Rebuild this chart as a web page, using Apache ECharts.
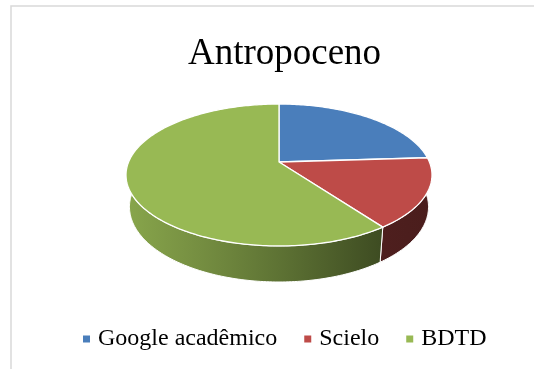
<!DOCTYPE html>
<html><head><meta charset="utf-8">
<script src="https://cdn.jsdelivr.net/npm/echarts@6/dist/echarts.min.js"></script>
<style>html,body{margin:0;padding:0;background:#fff}#c{width:534px;height:369px}</style>
</head><body><div id="c"></div>
<script>
const chartTitle = 'Antropoceno';
const categories = ['Google acadêmico', 'Scielo', 'BDTD'];
const values = [24, 16, 60];
const colors = ['#4a7ebb', '#be4b48', '#98b954'];

const total = values.reduce((a, b) => a + b, 0);
const starts = [], ends = [];
let acc = 0;
values.forEach(v => { starts.push(acc / total * 360); acc += v; ends.push(acc / total * 360); });

// perspective view of the pie (layout constants)
const P = { cx: 279, cy: 162, f: 731, D: 4.86, sa: 0.456, ca: 0.890, h: 0.24 };
function proj(deg, Y) {
  const r = deg * Math.PI / 180;
  const X = Math.sin(r), Z = Math.cos(r);
  const yc = Z * P.sa + Y * P.ca, zc = P.D + Z * P.ca - Y * P.sa;
  return [P.cx + P.f * X / zc, P.cy - P.f * yc / zc];
}
function arc(a, b, Y) {
  const pts = [];
  const n = Math.max(2, Math.ceil(Math.abs(b - a)));
  for (let i = 0; i <= n; i++) pts.push(proj(a + (b - a) * i / n, Y));
  return pts;
}
function shade(hex, k) {
  const n = parseInt(hex.slice(1), 16);
  const r = (n >> 16) & 255, g = (n >> 8) & 255, b = n & 255;
  return 'rgb(' + Math.round(r * k) + ',' + Math.round(g * k) + ',' + Math.round(b * k) + ')';
}
const xL = proj(260, 0)[0] - 4, xR = proj(100, 0)[0] + 2;
const shadeStops = [[0, 0.9], [0.25, 0.77], [0.5, 0.62], [0.83, 0.41], [1, 0.39]];

function renderSlice(params, api) {
  const i = params.seriesIndex;
  const a = starts[i], b = ends[i];
  const children = [];
  const wa = Math.max(a, 90), wb = Math.min(b, 270);
  if (wb > wa) {
    const top = arc(wa, wb, 0);
    const bot = arc(wb, wa, -P.h);
    children.push({
      type: 'polygon', z2: 1,
      shape: { points: top.concat(bot) },
      style: {
        fill: {
          type: 'linear', global: true, x: xL, y: 0, x2: xR, y2: 0,
          colorStops: shadeStops.map(s => ({ offset: s[0], color: shade(colors[i], s[1]) }))
        },
        stroke: '#ffffff', lineWidth: 1
      }
    });
  }
  const face = [[P.cx, P.cy]].concat(arc(a, b, 0));
  children.push({
    type: 'polygon', z2: 10,
    shape: { points: face },
    style: { fill: colors[i], stroke: '#ffffff', lineWidth: 1.3, lineJoin: 'round' }
  });
  return { type: 'group', children };
}

const serif = 'Liberation Serif';
const chart = echarts.init(document.getElementById('c'), null, { renderer: 'canvas' });
chart.setOption({
  animation: false,
  backgroundColor: '#ffffff',
  color: colors,
  textStyle: { fontFamily: serif },
  title: {
    text: chartTitle, left: 279.5, top: 31, textAlign: 'center',
    textStyle: { fontFamily: serif, fontSize: 37, fontWeight: 'normal', color: '#000' }
  },
  legend: {
    data: categories, icon: 'rect', itemWidth: 7, itemHeight: 7, itemGap: 27,
    left: 78, top: 322,
    textStyle: { fontFamily: serif, fontSize: 24, color: '#000', padding: [0, 0, 0, 3] }
  },
  graphic: [{
    type: 'rect', silent: true, z: -10,
    shape: { x: 11, y: 6, width: 600, height: 420 },
    style: { fill: 'none', stroke: '#d9d9d9', lineWidth: 1.5 }
  }],
  series: categories.map((name, i) => ({
    type: 'custom', name, coordinateSystem: 'none',
    data: [[values[i]]], renderItem: renderSlice
  }))
});
</script></body></html>
